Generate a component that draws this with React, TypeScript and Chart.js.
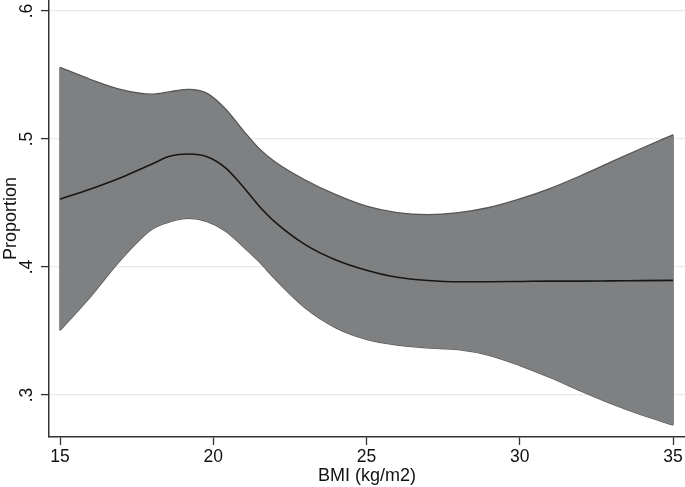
import { useEffect, useRef } from 'react';
import Chart from 'chart.js/auto';

// BMI grid the curves were read at
const BMI: number[] = [15, 16, 17, 18, 18.6, 19.2, 19.8, 20.4, 21, 21.5, 22, 23, 24, 25, 26, 27, 28, 29, 30, 31, 32, 33, 34, 35];

// upper / lower confidence limits and fitted proportion
const UPPER: number[] = [0.556, 0.5465, 0.5385, 0.535, 0.537, 0.5388, 0.5357, 0.5235, 0.506, 0.4925, 0.4825, 0.468, 0.4565, 0.4475, 0.4425, 0.441, 0.4425, 0.4465, 0.4532, 0.4615, 0.4715, 0.4823, 0.493, 0.5033];
const FIT: number[] = [0.453, 0.461, 0.470, 0.4805, 0.4867, 0.4883, 0.4862, 0.4775, 0.462, 0.4475, 0.4355, 0.4175, 0.4055, 0.3975, 0.392, 0.3895, 0.3885, 0.3885, 0.3887, 0.389, 0.389, 0.3892, 0.3894, 0.3896];
const LOWER: number[] = [0.3505, 0.377, 0.406, 0.4295, 0.4354, 0.438, 0.4354, 0.428, 0.4155, 0.404, 0.391, 0.368, 0.3525, 0.3435, 0.339, 0.3368, 0.3354, 0.331, 0.323, 0.3135, 0.303, 0.293, 0.2842, 0.2765];

const X_TICKS: number[] = [15, 20, 25, 30, 35];
const Y_TICKS: number[] = [0.3, 0.4, 0.5, 0.6];

const FONT = '"Liberation Sans", Arial, Helvetica, sans-serif';

const toPoints = (ys: number[]) => BMI.map((x, i) => ({ x, y: ys[i] }));
const last = BMI.length - 1;

// stata style y labels, rotated and without the leading zero
const yLabels = {
  id: 'yLabels',
  afterDraw(chart: Chart) {
    const { ctx } = chart;
    const y = chart.scales.y;
    ctx.save();
    ctx.font = `17.5px ${FONT}`;
    ctx.fillStyle = '#111';
    ctx.textAlign = 'center';
    ctx.textBaseline = 'middle';
    Y_TICKS.forEach((v) => {
      ctx.save();
      ctx.translate(27, y.getPixelForValue(v));
      ctx.rotate(-Math.PI / 2);
      ctx.fillText(String(v).replace(/^0/, ''), 0, 0);
      ctx.restore();
    });
    ctx.restore();
  },
};

export default function App() {
  const canvasRef = useRef<HTMLCanvasElement>(null);

  useEffect(() => {
    if (!canvasRef.current) return;

    const edge = '#555657';

    const chart = new Chart(canvasRef.current, {
      type: 'line',
      data: {
        datasets: [
          // first dataset is drawn on top, so the fitted line goes first
          {
            label: 'fit',
            data: toPoints(FIT),
            borderColor: '#161616',
            borderWidth: 1.6,
            fill: false,
            cubicInterpolationMode: 'monotone',
            pointRadius: 0,
          },
          {
            label: 'upper',
            data: toPoints(UPPER),
            borderColor: edge,
            backgroundColor: '#7f8082',
            borderWidth: 1.3,
            fill: '+1',
            cubicInterpolationMode: 'monotone',
            pointRadius: 0,
          },
          {
            label: 'lower',
            data: toPoints(LOWER),
            borderColor: edge,
            borderWidth: 1.3,
            fill: false,
            cubicInterpolationMode: 'monotone',
            pointRadius: 0,
          },
          {
            label: 'left edge',
            data: [{ x: BMI[0], y: LOWER[0] }, { x: BMI[0], y: UPPER[0] }],
            borderColor: edge,
            borderWidth: 1.3,
            fill: false,
            pointRadius: 0,
          },
          {
            label: 'right edge',
            data: [{ x: BMI[last], y: LOWER[last] }, { x: BMI[last], y: UPPER[last] }],
            borderColor: edge,
            borderWidth: 1.3,
            fill: false,
            pointRadius: 0,
          },
        ],
      },
      options: {
        animation: false,
        responsive: true,
        maintainAspectRatio: false,
        layout: { padding: 0 },
        plugins: {
          legend: { display: false },
          tooltip: { enabled: false },
        },
        scales: {
          x: {
            type: 'linear',
            min: 14.641,
            max: 35.39,
            afterBuildTicks: (scale) => {
              scale.ticks = X_TICKS.map((value) => ({ value }));
            },
            afterFit: (scale) => {
              scale.height = 50;
              scale.paddingLeft = 0;
              scale.paddingRight = 0;
            },
            grid: {
              drawOnChartArea: false,
              tickLength: 8,
              tickColor: '#333',
              tickWidth: 1.3,
            },
            border: { color: '#333', width: 1.5 },
            ticks: {
              padding: 2,
              color: '#111',
              font: { family: FONT, size: 17.5 },
            },
            title: {
              display: true,
              text: 'BMI (kg/m2)',
              color: '#111',
              padding: 0,
              font: { family: FONT, size: 18 },
            },
          },
          y: {
            type: 'linear',
            min: 0.2672,
            max: 0.6086,
            afterBuildTicks: (scale) => {
              scale.ticks = Y_TICKS.map((value) => ({ value }));
            },
            afterFit: (scale) => {
              scale.width = 49;
              scale.paddingTop = 0;
              scale.paddingBottom = 0;
            },
            grid: {
              color: '#e9e9e9',
              lineWidth: 1.2,
              tickLength: 8,
              tickColor: '#333',
              tickWidth: 1.3,
            },
            border: { color: '#333', width: 1.5 },
            ticks: { display: false },
            title: {
              display: true,
              text: 'Proportion',
              color: '#111',
              padding: 0,
              font: { family: FONT, size: 18 },
            },
          },
        },
      },
      plugins: [yLabels],
    });

    return () => chart.destroy();
  }, []);

  return (
    <div style={{ position: 'absolute', left: 0, top: 0, width: 685, height: 487, background: '#fff' }}>
      <canvas ref={canvasRef} />
    </div>
  );
}
